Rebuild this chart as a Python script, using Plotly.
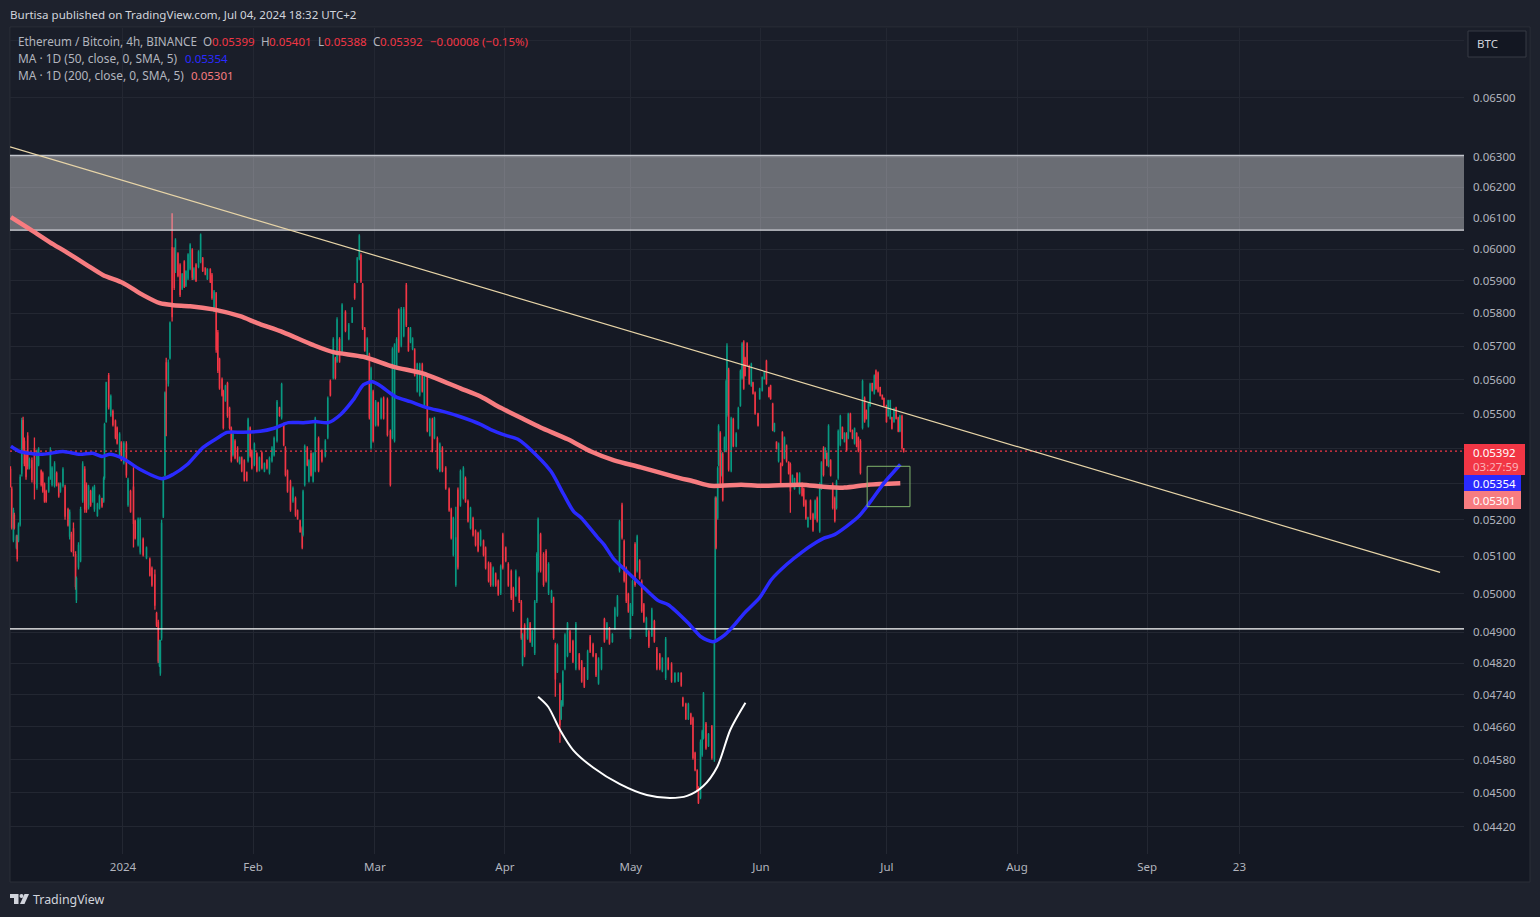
"""ETH/BTC 4h chart with moving averages, TradingView dark look."""
import numpy as np
import pandas as pd
import plotly.graph_objects as go

# prices are in 0.00001 BTC, days count from 2024-01-01
bar_day = [
    -26.8, -26.5, -26.1, -25.9, -25.4, -25.2, -24.9, -24.5, -24.1, -23.8, -23.5, -23.1, -22.7, -22.3, -21.7, -21.1, -20.5, -20.1, -19.5, -19.1,
    -18.7, -18.3, -17.7, -17.3, -16.9, -16.3, -15.8, -15.3, -14.9, -14.3, -13.8, -13.1, -12.7, -12.3, -11.8, -11.3, -11.1, -10.6, -10.1, -9.6,
    -9.1, -8.7, -8.2, -7.7, -7.2, -6.8, -6.1, -5.6, -5.0, -4.6, -4.4, -4.0, -3.4, -2.9, -2.4, -1.8, -1.4, -0.8, -0.4, 0.2,
    0.8, 1.2, 1.8, 2.5, 2.9, 3.6, 4.1, 4.8, 5.6, 6.4, 6.9, 7.6, 8.0, 8.4, 8.7, 8.9, 9.2,
    9.6, 10.0, 10.3, 10.8, 11.2, 11.7, 12.2, 12.5, 13.1, 13.6, 14.1, 14.6, 15.0, 15.5, 16.0, 16.5, 16.9, 17.4, 18.0, 18.5,
    19.0, 19.6, 20.1, 20.8, 21.2, 21.7, 22.2, 22.6, 23.0, 23.6, 23.9, 24.4, 24.9, 25.4, 25.8, 26.2, 26.7, 27.3, 27.8, 28.3,
    28.9, 29.5, 29.8, 30.3, 30.7, 31.3, 31.9, 32.5, 33.1, 33.7, 34.3, 34.9, 35.5, 36.0, 36.7, 37.3, 37.8, 38.3, 38.7, 39.2,
    39.9, 40.5, 41.1, 41.6, 42.2, 42.7, 42.9, 43.3, 43.9, 44.3, 44.8,
    45.3, 45.8, 46.6, 47.4, 48.2, 48.8, 49.4, 50.1, 50.6, 51.0, 51.6, 52.2, 53.0, 53.8, 54.6, 55.2, 55.8, 56.3, 56.7, 57.1,
    57.6, 58.2, 58.7, 59.1, 59.6, 60.2, 60.8, 61.5, 62.1, 63.0, 63.7, 64.2, 64.7, 65.2, 65.7, 66.3, 66.9, 67.5, 68.0, 68.5,
    69.0, 69.5, 70.1, 70.7, 71.3, 71.8, 72.5, 73.1, 73.7, 74.2, 74.9, 75.5, 76.1,
    76.9, 77.7, 78.2, 78.7, 79.3, 79.8, 80.4, 81.1, 81.6, 82.2, 82.8, 83.4, 84.0, 84.6, 85.2, 85.9, 86.4, 87.1, 87.6, 88.2,
    88.8, 89.4, 90.0, 90.5, 91.2, 91.8, 92.5, 93.0, 93.6, 94.4, 94.9, 95.2, 95.7, 96.4, 97.0, 97.5, 98.1, 98.6, 98.9, 99.5,
    100.2, 100.8, 101.4, 102.1, 102.6, 103.0, 103.5, 104.1, 104.4, 104.8, 105.3, 105.9, 106.5, 107.2, 107.9, 108.7, 109.3, 109.9, 110.7, 111.3,
    112.0, 112.7, 113.3, 114.0, 114.7, 115.3, 115.9, 116.6, 117.2, 117.8, 118.3, 118.9, 119.4, 119.9, 120.4, 120.9, 121.4, 122.0, 122.5, 123.1,
    123.6, 124.1, 124.7, 125.3, 126.0, 126.6, 127.2, 127.9, 128.5, 129.3, 129.9, 130.7, 131.5, 132.3, 133.0, 133.4, 134.1, 134.7, 135.3, 135.8,
    136.3, 136.8, 137.1, 137.6, 138.0, 138.3, 138.9, 139.5, 140.3, 140.9, 141.1,
    141.3, 141.7, 141.9, 142.3, 142.7, 142.9, 143.3, 143.7, 143.9, 144.3, 144.9, 145.4, 146.1, 146.6, 147.1, 147.5, 147.9, 148.2, 148.7, 149.2,
    149.7, 150.1, 150.6, 151.3, 151.7, 152.3, 152.8, 153.3, 153.9, 154.3, 154.8, 155.2, 155.7, 156.2, 156.7, 157.1, 157.6, 158.1, 158.6, 159.0,
    159.5, 160.0, 160.6, 161.2, 161.8, 162.2, 162.7, 163.2, 163.8, 164.4, 164.9, 165.4, 166.0, 166.4, 166.9, 167.3, 167.7, 168.1, 168.6, 169.1,
    169.6, 170.0, 170.4, 170.9, 171.4, 171.9, 172.4, 172.8, 173.3, 173.8, 174.3, 174.8, 175.2, 175.7, 176.2, 176.7, 177.1, 177.6, 178.0, 178.5,
    179.0, 179.4, 179.9, 180.4, 180.9, 181.3, 181.9, 182.3, 182.8, 183.2, 183.7, 184.2, 184.7, 185.1, 185.6, 186.0,
]
bar_open = [
    5340, 5285, 5145, 5212, 5125, 5152, 5145, 5188, 5330, 5480, 5420, 5380, 5435, 5345, 5365, 5400, 5290, 5355, 5335, 5328,
    5298, 5278, 5280, 5318, 5298, 5295, 5328, 5298, 5280, 5295, 5290, 5228, 5155, 5160, 5175, 5105, 4985, 5072, 5090, 5255,
    5340, 5295, 5235, 5278, 5252, 5230, 5212, 5233, 5258, 5252, 5318, 5478, 5612, 5497, 5506, 5478, 5458, 5383, 5415, 5360,
    5412, 5242, 5278, 5290, 5195, 5132, 5112, 5146, 5097, 5092, 5068, 5050, 4948, 4925, 4815, 4795, 4885,
    5210, 5325, 5650, 5590, 5665, 6005, 6000, 5935, 5985, 5950, 5878, 5960, 5887, 5909, 5940, 5997, 5908, 5950, 5946, 5962,
    5970, 5940, 5908, 5935, 5918, 5808, 5860, 5740, 5660, 5600, 5565, 5540, 5588, 5515, 5458, 5383, 5420, 5400, 5358, 5372,
    5364, 5330, 5366, 5458, 5392, 5355, 5384, 5339, 5386, 5336, 5365, 5332, 5365, 5382, 5423, 5516, 5490, 5468, 5400, 5335,
    5305, 5252, 5258, 5224, 5196, 5175, 5160, 5298, 5400, 5308, 5384,
    5308, 5338, 5428, 5392, 5379, 5432, 5595, 5606, 5662, 5656, 5720, 5686, 5803, 5724, 5774, 5888, 5900, 5971, 5980, 5888,
    5752, 5664, 5674, 5403, 5564, 5468, 5530, 5488, 5545, 5540, 5448, 5432, 5423, 5636, 5808, 5703, 5733, 5886, 5752, 5714,
    5693, 5688, 5567, 5556, 5644, 5522, 5608, 5438, 5482, 5431, 5428, 5337, 5400,
    5343, 5284, 5227, 5105, 5025, 5282, 5241, 5262, 5314, 5250, 5178, 5203, 5168, 5162, 5132, 5141, 5122, 5081, 5078, 5024,
    5052, 5033, 5003, 5158, 5122, 5078, 5059, 5013, 4997, 5040, 4978, 4818, 4917, 4885, 4921, 4866, 4847, 4982, 5063, 5158,
    5105, 5113, 5003, 4981, 4986, 4866, 4800, 4764, 4682, 4715, 4807, 4840, 4900, 4875, 4808, 4841, 4823, 4805, 4782, 4887,
    4867, 4841, 4770, 4807, 4932, 4885, 4908, 4876, 4910, 4945, 5063, 5240, 5140, 5067, 4998, 4888, 4948, 5132, 5063, 5087,
    5032, 4971, 4892, 4900, 4892, 4927, 4856, 4841, 4801, 4783, 4831, 4817, 4774, 4776, 4793, 4731, 4716, 4681, 4691, 4680,
    4595, 4553, 4512, 4490, 4592, 4634, 4667, 4615, 4660, 4582, 4885,
    5258, 5206, 5355, 5443, 5325, 5383, 5394, 5395, 5497, 5628, 5338, 5483, 5407, 5459, 5525, 5606, 5712, 5664, 5707, 5639,
    5584, 5590, 5560, 5499, 5545, 5569, 5603, 5654, 5575, 5581, 5527, 5450, 5417, 5365, 5355, 5444, 5374, 5406, 5359, 5354,
    5296, 5287, 5328, 5275, 5299, 5284, 5251, 5182, 5251, 5214, 5205, 5258, 5170, 5288, 5400, 5373, 5385, 5352, 5364, 5297,
    5258, 5234, 5317, 5412, 5459, 5421, 5441, 5431, 5498, 5450, 5416, 5442, 5429, 5420, 5460, 5545, 5508, 5465, 5525, 5588,
    5561, 5625, 5619, 5576, 5554, 5544, 5522, 5495, 5487, 5488, 5478, 5516, 5487, 5450, 5492, 5399,
]
bar_high = [
    5349, 5292, 5233, 5219, 5159, 5159, 5192, 5326, 5488, 5491, 5431, 5389, 5446, 5374, 5374, 5431, 5397, 5403, 5340, 5334,
    5303, 5283, 5320, 5403, 5349, 5363, 5334, 5303, 5303, 5346, 5297, 5233, 5228, 5167, 5192, 5114, 5046, 5138, 5236, 5363,
    5349, 5303, 5297, 5283, 5292, 5297, 5247, 5270, 5261, 5320, 5474, 5594, 5620, 5556, 5512, 5483, 5463, 5446, 5420, 5420,
    5420, 5317, 5283, 5346, 5200, 5206, 5206, 5151, 5127, 5097, 5073, 5065, 4953, 4932, 4880, 4880, 5200,
    5320, 5565, 5665, 5660, 5775, 6115, 6006, 6035, 5990, 5956, 5925, 5965, 5934, 5987, 6019, 6003, 5943, 5956, 5997, 6050,
    5975, 5943, 5940, 5940, 5925, 5872, 5866, 5749, 5665, 5606, 5570, 5585, 5594, 5520, 5463, 5446, 5426, 5406, 5377, 5377,
    5369, 5334, 5488, 5463, 5397, 5417, 5389, 5377, 5391, 5360, 5369, 5377, 5406, 5434, 5540, 5520, 5591, 5474, 5406, 5340,
    5311, 5292, 5264, 5228, 5200, 5181, 5283, 5411, 5406, 5369, 5389,
    5389, 5491, 5434, 5397, 5426, 5550, 5600, 5727, 5668, 5788, 5727, 5831, 5809, 5770, 5819, 5894, 5975, 6048, 5987, 5894,
    5758, 5727, 5680, 5638, 5570, 5540, 5535, 5547, 5550, 5547, 5454, 5697, 5709, 5727, 5815, 5819, 5819, 5894, 5758, 5758,
    5727, 5694, 5650, 5650, 5650, 5615, 5615, 5488, 5488, 5491, 5434, 5417, 5406,
    5349, 5289, 5233, 5208, 5236, 5289, 5340, 5349, 5320, 5256, 5236, 5208, 5173, 5167, 5173, 5146, 5127, 5086, 5084, 5073,
    5057, 5038, 5078, 5164, 5127, 5084, 5065, 5019, 5065, 5046, 4984, 4897, 4923, 4937, 4926, 4905, 4984, 5111, 5206, 5164,
    5111, 5119, 5084, 5011, 4992, 4872, 4870, 4770, 4727, 4802, 4897, 4926, 4905, 4880, 4926, 4846, 4828, 4810, 4854, 4892,
    4872, 4846, 4835, 4861, 4937, 4926, 4913, 4897, 4966, 4997, 5200, 5247, 5146, 5073, 5003, 4976, 5038, 5138, 5159, 5092,
    5038, 4976, 4940, 4905, 4963, 4932, 4861, 4846, 4835, 4887, 4835, 4822, 4797, 4797, 4797, 4735, 4720, 4720, 4695, 4685,
    4599, 4557, 4516, 4629, 4653, 4747, 4672, 4645, 4665, 4880, 5264,
    5264, 5349, 5469, 5449, 5389, 5389, 5434, 5600, 5709, 5635, 5491, 5488, 5446, 5520, 5630, 5712, 5718, 5668, 5712, 5644,
    5650, 5594, 5565, 5503, 5576, 5609, 5624, 5659, 5579, 5585, 5532, 5474, 5420, 5417, 5360, 5449, 5434, 5411, 5363, 5360,
    5326, 5317, 5332, 5332, 5303, 5289, 5256, 5208, 5256, 5219, 5256, 5264, 5303, 5363, 5406, 5403, 5389, 5469, 5369, 5303,
    5264, 5311, 5454, 5497, 5463, 5446, 5446, 5503, 5503, 5454, 5460, 5446, 5434, 5426, 5600, 5550, 5512, 5532, 5591, 5591,
    5615, 5630, 5624, 5579, 5556, 5547, 5526, 5541, 5541, 5491, 5517, 5520, 5491, 5497, 5497, 5401,
]
bar_low = [
    5289, 5173, 5138, 5173, 5119, 5086, 5138, 5181, 5320, 5389, 5349, 5311, 5340, 5340, 5303, 5256, 5283, 5349, 5292, 5275,
    5247, 5247, 5275, 5311, 5292, 5289, 5292, 5261, 5275, 5289, 5200, 5181, 5146, 5111, 5100, 5011, 4976, 5065, 5084, 5247,
    5219, 5219, 5228, 5236, 5247, 5222, 5208, 5228, 5233, 5247, 5311, 5474, 5512, 5491, 5463, 5426, 5411, 5377, 5363, 5354,
    5317, 5236, 5219, 5124, 5146, 5127, 5105, 5100, 5092, 5046, 5019, 4958, 4913, 4820, 4810, 4788, 4878,
    5205, 5320, 5435, 5580, 5660, 5775, 5872, 5925, 5912, 5850, 5872, 5878, 5881, 5903, 5934, 5903, 5903, 5897, 5940, 5956,
    5928, 5918, 5903, 5894, 5842, 5803, 5680, 5620, 5570, 5550, 5454, 5535, 5488, 5454, 5360, 5377, 5369, 5360, 5354, 5332,
    5306, 5306, 5360, 5374, 5340, 5349, 5332, 5334, 5340, 5332, 5340, 5326, 5360, 5377, 5417, 5491, 5483, 5406, 5320, 5275,
    5222, 5247, 5208, 5200, 5164, 5119, 5154, 5292, 5349, 5303, 5320,
    5303, 5332, 5332, 5360, 5374, 5426, 5550, 5600, 5600, 5650, 5650, 5680, 5742, 5718, 5770, 5842, 5894, 5965, 5894, 5749,
    5683, 5658, 5483, 5397, 5417, 5463, 5463, 5483, 5483, 5434, 5292, 5426, 5417, 5630, 5680, 5697, 5727, 5758, 5683, 5709,
    5688, 5609, 5562, 5550, 5562, 5517, 5446, 5434, 5389, 5426, 5340, 5332, 5332,
    5283, 5222, 5146, 5100, 5019, 5065, 5236, 5256, 5247, 5192, 5173, 5154, 5127, 5111, 5127, 5100, 5065, 5030, 5019, 5019,
    5019, 4995, 4997, 5065, 5084, 5019, 4984, 4953, 4992, 4976, 4880, 4812, 4835, 4880, 4872, 4861, 4841, 4976, 5057, 5057,
    5019, 5030, 4997, 4976, 4880, 4735, 4795, 4621, 4677, 4710, 4802, 4835, 4846, 4820, 4802, 4802, 4770, 4757, 4777, 4846,
    4835, 4785, 4765, 4802, 4872, 4880, 4867, 4872, 4905, 4940, 5057, 5146, 5030, 4976, 4950, 4882, 4942, 5019, 5057, 5038,
    4950, 4924, 4887, 4859, 4887, 4872, 4802, 4802, 4797, 4777, 4802, 4770, 4770, 4772, 4760, 4710, 4677, 4677, 4665, 4580,
    4552, 4502, 4474, 4485, 4587, 4629, 4604, 4611, 4580, 4575, 4880,
    5119, 5200, 5349, 5292, 5320, 5250, 5389, 5389, 5491, 5334, 5332, 5403, 5403, 5454, 5520, 5600, 5570, 5609, 5638, 5585,
    5579, 5556, 5497, 5463, 5541, 5565, 5600, 5585, 5547, 5541, 5449, 5446, 5397, 5360, 5297, 5349, 5369, 5360, 5326, 5219,
    5292, 5283, 5292, 5270, 5264, 5236, 5200, 5178, 5200, 5167, 5200, 5192, 5164, 5283, 5320, 5369, 5349, 5346, 5320, 5228,
    5192, 5228, 5311, 5406, 5426, 5417, 5391, 5426, 5446, 5426, 5411, 5403, 5389, 5326, 5454, 5474, 5483, 5460, 5520, 5565,
    5556, 5570, 5562, 5550, 5541, 5520, 5474, 5491, 5483, 5454, 5474, 5483, 5446, 5446, 5397, 5388,
]
bar_close = [
    5295, 5180, 5225, 5178, 5153, 5095, 5185, 5318, 5480, 5400, 5358, 5320, 5350, 5368, 5312, 5300, 5390, 5398, 5298, 5280,
    5252, 5252, 5315, 5395, 5344, 5356, 5297, 5266, 5298, 5340, 5210, 5186, 5220, 5116, 5110, 5020, 5040, 5130, 5228, 5355,
    5230, 5228, 5290, 5242, 5286, 5290, 5242, 5264, 5238, 5314, 5468, 5590, 5520, 5550, 5468, 5432, 5416, 5440, 5368, 5414,
    5325, 5310, 5224, 5190, 5150, 5200, 5200, 5105, 5122, 5050, 5024, 4970, 4918, 4826, 4875, 4872, 5190,
    5310, 5560, 5600, 5650, 5770, 5790, 5880, 6028, 5918, 5858, 5920, 5884, 5929, 5982, 6013, 5912, 5938, 5902, 5991, 6045,
    5933, 5922, 5936, 5898, 5848, 5866, 5690, 5628, 5576, 5555, 5460, 5580, 5495, 5460, 5366, 5440, 5374, 5365, 5373, 5337,
    5311, 5310, 5482, 5380, 5345, 5411, 5338, 5372, 5345, 5356, 5345, 5371, 5400, 5428, 5534, 5495, 5585, 5411, 5326, 5280,
    5228, 5286, 5214, 5204, 5168, 5125, 5277, 5405, 5354, 5364, 5325,
    5384, 5485, 5338, 5365, 5420, 5544, 5555, 5720, 5606, 5780, 5656, 5825, 5748, 5764, 5814, 5848, 5969, 6042, 5900, 5755,
    5688, 5721, 5490, 5632, 5423, 5534, 5468, 5542, 5488, 5440, 5298, 5690, 5703, 5720, 5686, 5812, 5812, 5765, 5688, 5752,
    5722, 5614, 5645, 5644, 5567, 5610, 5452, 5483, 5395, 5486, 5346, 5411, 5337,
    5288, 5227, 5151, 5202, 5150, 5072, 5334, 5343, 5252, 5197, 5231, 5159, 5132, 5116, 5168, 5105, 5070, 5035, 5025, 5068,
    5024, 5000, 5072, 5071, 5089, 5024, 4990, 4959, 5059, 4982, 4886, 4891, 4841, 4932, 4877, 4900, 4978, 5105, 5200, 5063,
    5025, 5036, 5078, 5006, 4886, 4780, 4864, 4665, 4722, 4797, 4892, 4921, 4851, 4825, 4920, 4807, 4775, 4762, 4849, 4851,
    4840, 4790, 4830, 4856, 4877, 4921, 4872, 4893, 4960, 4992, 5194, 5152, 5036, 4982, 4955, 4970, 5032, 5025, 5153, 5043,
    4956, 4929, 4935, 4864, 4957, 4877, 4807, 4807, 4831, 4881, 4806, 4775, 4793, 4793, 4765, 4714, 4681, 4716, 4669, 4585,
    4556, 4506, 4478, 4622, 4648, 4742, 4609, 4641, 4585, 4874, 5258,
    5125, 5343, 5463, 5298, 5384, 5256, 5429, 5594, 5700, 5341, 5485, 5408, 5441, 5515, 5624, 5706, 5576, 5613, 5643, 5590,
    5645, 5560, 5502, 5467, 5572, 5605, 5621, 5590, 5551, 5545, 5454, 5470, 5400, 5412, 5302, 5354, 5429, 5365, 5330, 5280,
    5322, 5313, 5296, 5327, 5268, 5241, 5205, 5204, 5205, 5172, 5251, 5198, 5296, 5358, 5326, 5399, 5353, 5463, 5325, 5234,
    5198, 5305, 5448, 5491, 5430, 5443, 5396, 5498, 5451, 5430, 5456, 5407, 5394, 5332, 5594, 5479, 5487, 5527, 5586, 5569,
    5610, 5575, 5567, 5554, 5544, 5523, 5478, 5537, 5537, 5458, 5513, 5487, 5450, 5493, 5402, 5392,
]

ma50_day = [
    -26.7, -24.6, -19.1, -14.3, -10.3, -7.2, -5.0, -3.1, 0.0, 4.1, 9.3, 11.9, 15.3, 19.1, 22.4, 24.8, 28.6, 32.7, 35.8, 39.4,
    43.0, 45.8, 48.9, 51.8, 54.9, 57.3, 59.4, 61.3, 64.9, 68.5, 72.6, 76.4, 80.4, 85.2, 87.6, 91.2, 94.1, 98.8, 102.0, 105.0,
    107.4, 109.1, 113.1, 114.6, 117.0, 120.3, 123.4, 127.5, 129.9, 134.6, 137.8, 140.6, 143.3, 146.1, 148.1, 151.7, 154.5, 158.1, 161.7, 165.2,
    166.9, 169.5, 175.2, 177.6, 181.4, 185.2,
]
ma50_price = [
    5406, 5391, 5383, 5391, 5383, 5386, 5377, 5383, 5371, 5340, 5314, 5326, 5354, 5403, 5429, 5446, 5446, 5449, 5457, 5474,
    5474, 5477, 5474, 5497, 5541, 5585, 5594, 5582, 5550, 5535, 5517, 5506, 5491, 5469, 5454, 5437, 5426, 5377, 5334, 5270,
    5222, 5206, 5151, 5132, 5092, 5057, 5024, 4982, 4971, 4924, 4887, 4875, 4892, 4924, 4950, 4990, 5038, 5078, 5111, 5138,
    5149, 5159, 5208, 5242, 5303, 5354,
]
ma200_day = [
    -26.7, -22.2, -17.4, -13.4, -8.6, -4.8, 0.0, 4.8, 8.8, 11.9, 16.0, 21.5, 27.9, 32.0, 38.2, 45.4, 50.1, 57.3, 64.5, 71.6,
    80.4, 85.2, 90.0, 94.8, 99.5, 106.0, 111.5, 117.0, 123.4, 131.3, 136.1, 140.1, 147.3, 152.1, 161.7, 166.4, 171.9, 177.6, 185.2,
]
ma200_price = [
    6103, 6064, 6022, 5990, 5950, 5919, 5894, 5856, 5831, 5825, 5822, 5812, 5791, 5770, 5742, 5703, 5682, 5668, 5638, 5618,
    5574, 5550, 5517, 5488, 5460, 5426, 5391, 5366, 5346, 5320, 5306, 5294, 5297, 5294, 5297, 5292, 5289, 5297, 5301,
]
cup_day = [98.9, 101.3, 104.1, 107.2, 112.0, 118.4, 124.8, 130.3, 134.4, 138.2, 141.6, 144.7, 148.3]
cup_price = [4735, 4710, 4653, 4604, 4561, 4521, 4495, 4488, 4493, 4516, 4563, 4653, 4720]
trend_day = [-26.9, 313.8]
trend_price = [6334, 5057]

band_top = 6305
band_bottom = 6061
support_price = 4908
last_price = 5392
box_day = [177.3, 187.5]
box_price = [5236, 5349]

y_ticks = [0.067, 0.065, 0.063, 0.062, 0.061, 0.06, 0.059, 0.058, 0.057, 0.056, 0.055, 0.054, 0.053, 0.052, 0.051, 0.05, 0.049, 0.0482, 0.0474, 0.0466, 0.0458, 0.045, 0.0442]
y_tick_hidden = [0.067, 0.054, 0.053]  # sit behind the BTC button and the price tags
x_tick_dates = ["2024-01-01", "2024-02-01", "2024-03-01", "2024-04-01", "2024-05-01", "2024-06-01", "2024-07-01", "2024-08-01", "2024-09-01", "2024-09-23"]
x_tick_text = ["2024", "Feb", "Mar", "Apr", "May", "Jun", "Jul", "Aug", "Sep", "23"]

assert len({len(bar_day), len(bar_open), len(bar_high), len(bar_low), len(bar_close)}) == 1, (
    len(bar_day), len(bar_open), len(bar_high), len(bar_low), len(bar_close))

FONT = "Noto Sans"
GREEN = "#089981"
RED = "#f23645"
BLUE = "#2a2aff"
PINK = "#f77c80"
TEXT = "#b2b5be"
GRID = "#232732"
PANE_L, PANE_R, PANE_T, PANE_B = 10, 1464, 28, 854


def to_date(days):
    return pd.Timestamp("2024-01-01") + pd.to_timedelta(np.asarray(days, dtype=float), unit="D")


def to_price(values):
    return np.asarray(values, dtype=float) / 1e5


def px(x):
    return (x - PANE_L) / (PANE_R - PANE_L)


def py(y):
    return 1 - (y - PANE_T) / (PANE_B - PANE_T)


edge_days = [-26.92, 319.5]
edges = to_date(edge_days)

fig = go.Figure()

# resistance band, outlined only along top and bottom
fig.add_trace(go.Scatter(
    x=[edges[0], edges[1], edges[1], edges[0], edges[0]],
    y=to_price([band_top, band_top, band_bottom, band_bottom, band_top]),
    mode="lines", line={"width": 0},
    fill="toself", fillcolor="rgba(255,255,255,0.36)", hoverinfo="skip",
))
for level, edge_color in [(band_top, "#c3c6cd"), (band_bottom, "#d8dadf")]:
    fig.add_trace(go.Scatter(
        x=edges, y=to_price([level, level]),
        mode="lines", line={"color": edge_color, "width": 1.3}, hoverinfo="skip",
    ))
fig.add_trace(go.Scatter(
    x=edges, y=to_price([support_price, support_price]),
    mode="lines", line={"color": "#ffffff", "width": 1.3}, hoverinfo="skip",
))
fig.add_trace(go.Scatter(
    x=edges, y=to_price([last_price, last_price]),
    mode="lines", line={"color": RED, "width": 1.2, "dash": "2px,3px"}, hoverinfo="skip",
))

fig.add_trace(go.Candlestick(
    x=to_date(bar_day),
    open=to_price(bar_open), high=to_price(bar_high),
    low=to_price(bar_low), close=to_price(bar_close),
    increasing={"line": {"color": GREEN, "width": 1.3}, "fillcolor": GREEN},
    decreasing={"line": {"color": RED, "width": 1.3}, "fillcolor": RED},
    hoverinfo="skip",
))

fig.add_trace(go.Scatter(
    x=to_date(ma200_day), y=to_price(ma200_price), mode="lines",
    line={"color": PINK, "width": 4.5, "shape": "spline", "smoothing": 0.7}, hoverinfo="skip",
))
fig.add_trace(go.Scatter(
    x=to_date(ma50_day), y=to_price(ma50_price), mode="lines",
    line={"color": BLUE, "width": 3.5, "shape": "spline", "smoothing": 0.7}, hoverinfo="skip",
))
fig.add_trace(go.Scatter(
    x=to_date(trend_day), y=to_price(trend_price), mode="lines",
    line={"color": "#e8d5a8", "width": 1.2}, hoverinfo="skip",
))
fig.add_trace(go.Scatter(
    x=to_date(cup_day), y=to_price(cup_price), mode="lines",
    line={"color": "#ffffff", "width": 2, "shape": "spline", "smoothing": 0.8}, hoverinfo="skip",
))
box_x = to_date(box_day)
box_y = to_price(box_price)
fig.add_trace(go.Scatter(
    x=[box_x[0], box_x[1], box_x[1], box_x[0], box_x[0]],
    y=[box_y[0], box_y[0], box_y[1], box_y[1], box_y[0]],
    mode="lines", line={"color": "#81b56c", "width": 1}, hoverinfo="skip",
))


def rect(x0, y0, x1, y1, fill, line=None, layer="above"):
    return {
        "type": "rect", "xref": "paper", "yref": "paper", "layer": layer,
        "x0": px(x0), "x1": px(x1), "y0": py(y0), "y1": py(y1),
        "fillcolor": fill, "line": {"color": line or fill, "width": 1 if line else 0},
    }


def label(x, y, text, color=TEXT, size=12, anchor="left"):
    return {
        "xref": "paper", "yref": "paper", "x": px(x), "y": py(y),
        "text": text, "showarrow": False, "xanchor": anchor, "yanchor": "middle",
        "borderpad": 0, "borderwidth": 0,
        "font": {"family": FONT, "size": size, "color": color},
    }


def pts(*pairs):
    return " ".join(f"{'M' if i == 0 else 'L'}{px(a):.5f},{py(b):.5f}" for i, (a, b) in enumerate(pairs)) + " Z"


shapes = [
    # the pane background fades slightly darker towards the bottom
    rect(10, 27, 1530, 882, "#141823", "#2a2e39", layer="below"),
    rect(11, 28, 1529, 90, "#1a1e29", layer="below"),
    rect(11, 90, 1529, 160, "#181c27", layer="below"),
    rect(11, 160, 1529, 280, "#171b26", layer="below"),
    rect(11, 280, 1529, 400, "#151924", layer="below"),
    # last price and moving average tags
    rect(1464, 444, 1525, 475, RED),
    rect(1464, 475, 1521, 491, BLUE),
    rect(1464, 491, 1521, 509, PINK),
    rect(1468, 31, 1526, 57, "#131722", "#363a45"),
    # TradingView mark
    {"type": "path", "xref": "paper", "yref": "paper", "fillcolor": "#d1d4dc", "line": {"width": 0},
     "path": pts((10, 894), (18.5, 894), (18.5, 904), (14, 904), (14, 898), (10, 898))},
    {"type": "circle", "xref": "paper", "yref": "paper", "fillcolor": "#d1d4dc", "line": {"width": 0},
     "x0": px(19.5), "x1": px(23.5), "y0": py(898), "y1": py(894)},
    {"type": "path", "xref": "paper", "yref": "paper", "fillcolor": "#d1d4dc", "line": {"width": 0},
     "path": pts((24.5, 894), (29, 894), (24.5, 904), (20, 904))},
]

annotations = [
    label(10, 14, "Burtisa published on TradingView.com, Jul 04, 2024 18:32 UTC+2", "#d1d4dc", 11.55),
    label(17.5, 41, "Ethereum / Bitcoin, 4h, BINANCE", size=11.7),
    label(203, 41, "O", size=11.7),
    label(211.5, 41, "0.05399", RED, 11.5),
    label(261, 41, "H", size=11.7),
    label(268.5, 41, "0.05401", RED, 11.5),
    label(318, 41, "L", size=11.7),
    label(324, 41, "0.05388", RED, 11.5),
    label(372.5, 41, "C", size=11.7),
    label(380, 41, "0.05392", RED, 11.5),
    label(430, 41, "\u22120.00008 (\u22120.15%)", RED, 11.5),
    label(17.5, 58, "MA \u00b7 1D (50, close, 0, SMA, 5)", size=11.9),
    label(185, 58, "0.05354", BLUE, 11.5),
    label(17.5, 75, "MA \u00b7 1D (200, close, 0, SMA, 5)", size=11.9),
    label(191, 75, "0.05301", PINK, 11.5),
    label(1473, 452.5, "0.05392", "#ffffff", 11.5),
    label(1473, 466.5, "03:27:59", "#fbb4ba", 11.5),
    label(1473, 483.5, "0.05354", "#ffffff", 11.5),
    label(1473, 500.5, "0.05301", "#ffffff", 11.5),
    label(1477, 44, "BTC", "#d1d4dc", 11.5),
    label(33, 899, "TradingView", "#d1d4dc", 12.4),
]

fig.update_layout(
    width=1540, height=917,
    autosize=False,
    showlegend=False,
    margin={"l": PANE_L, "r": 1540 - PANE_R, "t": PANE_T, "b": 917 - PANE_B, "pad": 0},
    paper_bgcolor="#1e222d",
    plot_bgcolor="rgba(0,0,0,0)",
    font={"family": FONT, "size": 11.5, "color": TEXT},
    shapes=shapes,
    annotations=annotations,
    xaxis={
        "type": "date", "range": [edges[0], edges[1]],
        "tickmode": "array", "tickvals": x_tick_dates, "ticktext": x_tick_text,
        "showgrid": True, "gridcolor": GRID, "gridwidth": 1,
        "ticks": "", "ticklabelstandoff": 4, "zeroline": False, "showline": False,
        "rangeslider": {"visible": False},
    },
    yaxis={
        "type": "log", "side": "right",
        "range": [np.log10(0.04357), np.log10(0.06745)],
        "tickmode": "array", "tickvals": y_ticks,
        "ticktext": ["" if v in y_tick_hidden else f"{v:.5f}" for v in y_ticks],
        "showgrid": True, "gridcolor": GRID, "gridwidth": 1,
        "ticks": "", "ticklabelstandoff": 8, "zeroline": False, "showline": False,
    },
)

fig.write_html(
    "out.html",
    config={"displayModeBar": False},
    post_script="document.body.style.margin='0';document.body.style.overflow='hidden';",
)
